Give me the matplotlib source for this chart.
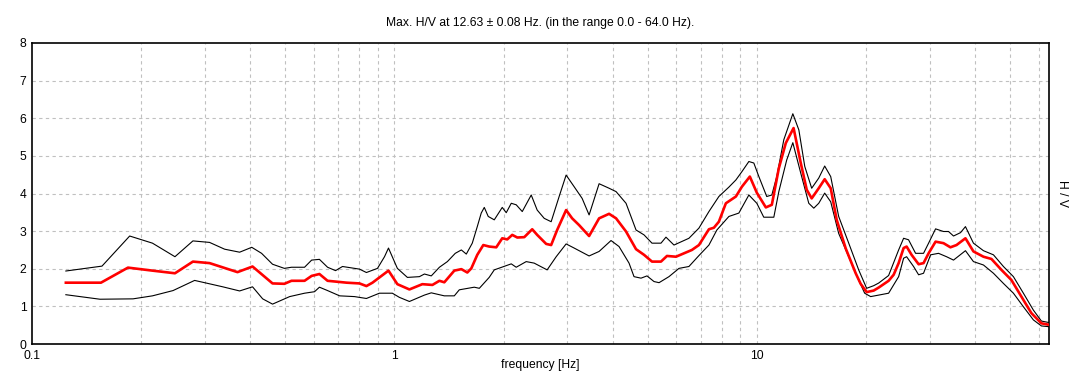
import matplotlib
matplotlib.use("Agg")
import matplotlib.pyplot as plt

plt.rcParams['font.family'] = ['Liberation Sans', 'DejaVu Sans']

# average H/V curve (red)
freq_avg = [0.124, 0.155, 0.184, 0.215, 0.248, 0.278, 0.309, 0.369, 0.406, 0.461,
            0.497, 0.520, 0.565, 0.591, 0.621, 0.654, 0.738, 0.801, 0.837, 0.870,
            0.963, 1.019, 1.100, 1.194, 1.273, 1.331, 1.373, 1.463, 1.530, 1.589,
            1.630, 1.693, 1.759, 1.826, 1.910, 1.984, 2.048, 2.114, 2.183, 2.282,
            2.400, 2.477, 2.623, 2.707, 2.812, 2.977, 3.093, 3.233, 3.445, 3.671,
            3.911, 4.089, 4.356, 4.642, 4.884, 5.137, 5.439, 5.650, 5.983, 6.294,
            6.621, 6.922, 7.376, 7.612, 7.857, 8.214, 8.755, 9.094, 9.566, 10.0,
            10.59, 11.00, 11.50, 12.02, 12.63, 13.22, 13.73, 14.17, 14.82, 15.39,
            15.99, 16.61, 17.59, 18.74, 19.34, 20.09, 21.01, 21.69, 23.10, 23.85,
            24.62, 25.41, 25.90, 26.73, 27.95, 28.84, 29.78, 31.13, 32.74, 34.21,
            35.56, 37.64, 39.60, 42.20, 44.40, 47.31, 50.41, 53.70, 57.23, 60.98, 64.0]
hv_avg = [1.63, 1.63, 2.03, 1.95, 1.88, 2.19, 2.15, 1.91, 2.06, 1.61,
          1.60, 1.68, 1.68, 1.81, 1.86, 1.68, 1.63, 1.61, 1.54, 1.63,
          1.95, 1.59, 1.45, 1.59, 1.57, 1.68, 1.64, 1.95, 1.99, 1.90,
          2.01, 2.37, 2.63, 2.59, 2.57, 2.81, 2.78, 2.90, 2.83, 2.84,
          3.05, 2.90, 2.66, 2.63, 3.03, 3.56, 3.34, 3.16, 2.87, 3.34,
          3.46, 3.34, 2.99, 2.52, 2.37, 2.19, 2.19, 2.34, 2.32, 2.41,
          2.50, 2.63, 3.05, 3.09, 3.25, 3.74, 3.92, 4.18, 4.45, 4.02,
          3.63, 3.70, 4.67, 5.34, 5.74, 4.81, 4.10, 3.87, 4.14, 4.38,
          4.14, 3.30, 2.54, 1.88, 1.60, 1.38, 1.42, 1.50, 1.68, 1.84,
          2.15, 2.55, 2.59, 2.37, 2.12, 2.15, 2.41, 2.72, 2.68, 2.57,
          2.63, 2.81, 2.46, 2.32, 2.26, 1.97, 1.70, 1.26, 0.82, 0.55, 0.51]

# upper standard deviation curve
freq_up = [0.124, 0.156, 0.186, 0.215, 0.248, 0.278, 0.309, 0.340, 0.374, 0.404,
           0.430, 0.461, 0.497, 0.520, 0.565, 0.591, 0.621, 0.654, 0.688, 0.719,
           0.801, 0.837, 0.898, 0.939, 0.963, 1.019, 1.086, 1.172, 1.210, 1.264,
           1.331, 1.400, 1.472, 1.530, 1.579, 1.640, 1.693, 1.736, 1.770, 1.815,
           1.886, 1.984, 2.035, 2.101, 2.168, 2.253, 2.385, 2.477, 2.590, 2.707,
           2.848, 2.977, 3.133, 3.296, 3.445, 3.671, 3.911, 4.089, 4.356, 4.642,
           4.884, 5.137, 5.439, 5.614, 5.907, 6.496, 6.922, 7.376, 7.857, 8.374,
           8.755, 9.094, 9.506, 9.811, 10.13, 10.65, 11.00, 11.35, 11.87, 12.57,
           13.06, 13.56, 14.17, 14.82, 15.39, 15.99, 16.82, 17.93, 19.10, 20.09,
           21.01, 21.69, 23.10, 24.62, 25.41, 26.22, 27.42, 28.84, 29.78, 31.13,
           32.74, 33.80, 34.89, 36.48, 37.64, 39.60, 42.20, 44.97, 47.91, 51.05,
           54.39, 57.96, 60.98, 64.0]
hv_up = [1.94, 2.07, 2.87, 2.68, 2.32, 2.74, 2.70, 2.52, 2.44, 2.57,
         2.41, 2.12, 2.01, 2.04, 2.04, 2.23, 2.25, 2.04, 1.95, 2.06,
         1.99, 1.90, 2.01, 2.32, 2.55, 2.01, 1.77, 1.79, 1.86, 1.81,
         2.04, 2.19, 2.41, 2.50, 2.39, 2.68, 3.12, 3.48, 3.63, 3.39,
         3.30, 3.63, 3.49, 3.74, 3.70, 3.52, 3.96, 3.56, 3.34, 3.25,
         3.92, 4.49, 4.18, 3.87, 3.43, 4.26, 4.14, 4.05, 3.74, 3.03,
         2.90, 2.68, 2.68, 2.84, 2.63, 2.81, 3.08, 3.52, 3.92, 4.17,
         4.36, 4.58, 4.85, 4.81, 4.45, 3.92, 3.96, 4.45, 5.43, 6.12,
         5.69, 4.72, 4.14, 4.41, 4.73, 4.45, 3.39, 2.68, 1.97, 1.48,
         1.55, 1.62, 1.82, 2.50, 2.81, 2.77, 2.41, 2.41, 2.68, 3.06,
         2.99, 2.99, 2.87, 2.96, 3.12, 2.68, 2.48, 2.37, 2.06, 1.79,
         1.35, 0.90, 0.61, 0.57]

# lower standard deviation curve
freq_lo = [0.124, 0.154, 0.190, 0.215, 0.245, 0.281, 0.336, 0.374, 0.406, 0.433,
           0.461, 0.514, 0.565, 0.602, 0.621, 0.654, 0.706, 0.776, 0.837, 0.909,
           0.987, 1.032, 1.100, 1.210, 1.264, 1.373, 1.463, 1.510, 1.661, 1.715,
           1.826, 1.886, 2.101, 2.168, 2.310, 2.430, 2.639, 2.795, 2.977, 3.133,
           3.445, 3.671, 3.960, 4.167, 4.440, 4.583, 4.791, 4.977, 5.203, 5.373,
           5.722, 6.098, 6.496, 6.922, 7.376, 7.758, 8.374, 8.921, 9.506, 10.0,
           10.45, 11.14, 11.50, 12.09, 12.57, 13.22, 13.91, 14.36, 14.82, 15.39,
           15.99, 16.82, 17.93, 19.10, 19.84, 20.61, 21.69, 23.10, 24.62, 25.41,
           25.90, 27.07, 27.95, 28.84, 30.16, 31.72, 33.38, 34.89, 37.64, 39.60,
           42.20, 44.97, 47.91, 51.05, 54.39, 57.96, 60.98, 64.0]
hv_lo = [1.31, 1.19, 1.20, 1.28, 1.42, 1.69, 1.52, 1.41, 1.52, 1.20,
         1.06, 1.26, 1.35, 1.39, 1.51, 1.42, 1.28, 1.26, 1.21, 1.35,
         1.35, 1.24, 1.13, 1.30, 1.36, 1.28, 1.28, 1.44, 1.51, 1.48,
         1.77, 1.97, 2.13, 2.04, 2.19, 2.15, 1.97, 2.32, 2.66, 2.55,
         2.34, 2.46, 2.75, 2.59, 2.15, 1.79, 1.75, 1.81, 1.66, 1.63,
         1.79, 2.01, 2.06, 2.35, 2.63, 3.03, 3.39, 3.48, 3.96, 3.74,
         3.37, 3.37, 4.05, 4.89, 5.35, 4.54, 3.74, 3.61, 3.74, 4.01,
         3.78, 2.94, 2.32, 1.70, 1.35, 1.26, 1.30, 1.35, 1.79, 2.28,
         2.32, 2.06, 1.84, 1.88, 2.37, 2.41, 2.32, 2.23, 2.48, 2.19,
         2.10, 1.88, 1.61, 1.35, 0.99, 0.64, 0.48, 0.46]

grid_x = [0.2, 0.3, 0.4, 0.5, 0.6, 0.7, 0.8, 0.9, 1, 2, 3, 4, 5, 6, 7, 8, 9, 10,
          20, 30, 40, 50, 60]

fig = plt.figure(figsize=(10.81, 3.87), dpi=100)
ax = fig.add_axes([0.0296, 0.1111, 0.9408, 0.7778])

for gx in grid_x:
    ax.axvline(gx, color='#c0c0c0', lw=0.8, ls=(0, (3, 3)), zorder=0)
for gy in range(1, 8):
    ax.axhline(gy, color='#c0c0c0', lw=0.8, ls=(0, (3, 3)), zorder=0)

ax.plot(freq_up, hv_up, color='black', lw=0.8, zorder=2)
ax.plot(freq_lo, hv_lo, color='black', lw=0.8, zorder=2)
ax.plot(freq_avg, hv_avg, color='red', lw=1.9, zorder=3)

ax.set_xscale('log')
ax.set_xlim(0.1, 64)
ax.set_ylim(0, 8)
ax.set_xticks([0.1, 1, 10])
ax.set_xticklabels(['0.1', '1', '10'])
ax.set_xticks([], minor=True)
ax.set_yticks(range(0, 9))
ax.tick_params(length=0, labelsize=8.7, pad=4)
for s in ax.spines.values():
    s.set_linewidth(1.2)

ax.set_xlabel('frequency [Hz]', fontsize=8.7, labelpad=-2)
ax.yaxis.set_label_position('right')
ax.set_ylabel('H / V', fontsize=8.7, rotation=270, labelpad=14)
ax.set_title('Max. H/V at 12.63 ± 0.08 Hz. (in the range 0.0 - 64.0 Hz).',
             fontsize=8.7, pad=12)

fig.savefig('out.png', dpi=100)
